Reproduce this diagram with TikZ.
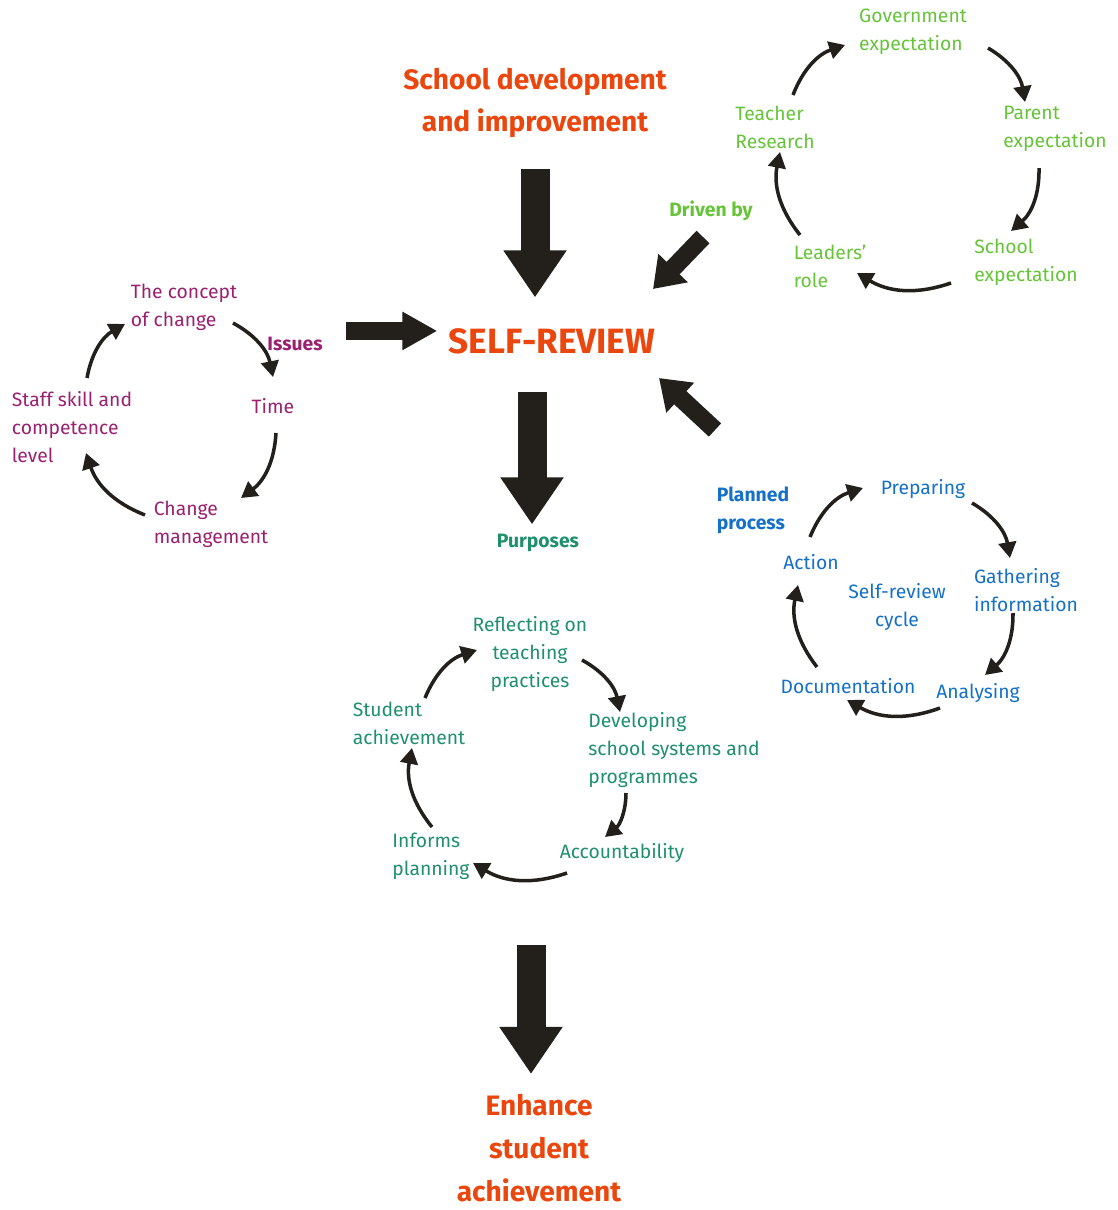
\documentclass[tikz,border=0pt]{standalone}
\usepackage{fontspec}
\setmainfont{Fira Sans}
\usetikzlibrary{arrows.meta}
\definecolor{headred}{RGB}{234,70,14}
\definecolor{drivegreen}{RGB}{102,196,56}
\definecolor{issuepurple}{RGB}{155,32,112}
\definecolor{purposeteal}{RGB}{30,144,106}
\definecolor{planblue}{RGB}{20,112,200}
\definecolor{arrowblack}{RGB}{35,32,28}
\tikzset{
	lbl/.style={align=left, font=\fontsize{11}{16}\selectfont},
	tagtxt/.style={align=left, font=\fontsize{11}{16}\selectfont\bfseries},
	heading/.style={align=center, text=headred, font=\fontsize{16}{24.4}\selectfont\bfseries},
	cyc/.style={draw=arrowblack, line width=2pt, -{Triangle[length=9pt,width=10pt]}, bend left=25},
	bigarrow/.style={draw=arrowblack, line width=0.58cm, -{Triangle[length=0.94cm,width=1.2cm]}},
	midarrow/.style={draw=arrowblack, line width=0.36cm, -{Triangle[length=0.58cm,width=0.78cm]}}
}
\begin{document}
\begin{tikzpicture}[x=0.02cm,y=-0.02cm]
		\useasboundingbox (0,0) rectangle (1117,1210);
		% centre
		\node [heading] (school) at (535,103) {School development\\and improvement};
		\node [heading, font=\fontsize{20}{24}\selectfont\bfseries] (selfrev) at (552,341) {SELF-REVIEW};
		\node [heading] (enhance) at (539,1148) {Enhance\\student\\achievement};
		\draw [bigarrow, shorten <=14pt, shorten >=14pt] (school.south) -- (school.south |- selfrev.north);
		% drivers
		\node [lbl, text=drivegreen] (g1) at (913,32) {Government\\expectation};
		\node [lbl, text=drivegreen] (g2) at (1055,129) {Parent\\expectation};
		\node [lbl, text=drivegreen] (g3) at (1026,262) {School\\expectation};
		\node [lbl, text=drivegreen] (g4) at (830,266) {Leaders’\\role};
		\node [lbl, text=drivegreen] (g5) at (775,127) {Teacher\\Research};
		\node [tagtxt, text=drivegreen] (drivenby) at (711,211) {Driven by};
		\draw ([shift={(18,-32)}]g5.center) edge [cyc] ([shift={(-68,13)}]g1.center);
		\draw ([shift={(75,16)}]g1.center) edge [cyc] ([shift={(-30,-27)}]g2.center);
		\draw ([shift={(-16,39)}]g2.center) edge [cyc] ([shift={(-15,-31)}]g3.center);
		\draw ([shift={(-75,21)}]g3.center) edge [cyc] ([shift={(27,7)}]g4.center);
		\draw ([shift={(-30,-31)}]g4.center) edge [cyc] ([shift={(5,25)}]g5.center);
		\coordinate (drvtail) at (703,237);
		\coordinate (drvtip) at (653,289);
		\draw [midarrow] (drvtail) -- (drvtip);
		% issues
		\node [lbl, text=issuepurple] (p1) at (184,307) {The concept\\of change};
		\node [lbl, text=issuepurple] (p2) at (273,406) {Time};
		\node [lbl, text=issuepurple] (p3) at (211,524) {Change\\management};
		\node [lbl, text=issuepurple] (p4) at (72,427) {Staff skill and\\competence\\level};
		\node [tagtxt, text=issuepurple] (issues) at (295,344) {Issues};
		\draw ([shift={(49,16)}]p1.center) edge [cyc] ([shift={(0,-29)}]p2.center);
		\draw ([shift={(3,27)}]p2.center) edge [cyc] ([shift={(30,-26)}]p3.center);
		\draw ([shift={(-66,-9)}]p3.center) edge [cyc] ([shift={(14,26)}]p4.center);
		\draw ([shift={(15,-49)}]p4.center) edge [cyc] ([shift={(-59,17)}]p1.center);
		\draw [midarrow, -{Triangle[length=0.7cm,width=0.72cm]}, shorten <=10pt, shorten >=3pt] (issues.north east) -- (issues.north east -| selfrev.west);
		% purposes
		\node [tagtxt, text=purposeteal] (purposes) at (538,543) {Purposes};
		\draw [bigarrow, shorten <=18pt, shorten >=2pt] (selfrev.south -| 532,0) -- (532,0 |- purposes.north);
		\node [lbl, text=purposeteal, align=center] (t1) at (530,654) {Reflecting on\\teaching\\practices};
		\node [lbl, text=purposeteal] (t2) at (674,750) {Developing\\school systems and\\programmes};
		\node [lbl, text=purposeteal] (t3) at (622,853) {Accountability};
		\node [lbl, text=purposeteal] (t4) at (431,856) {Informs\\planning};
		\node [lbl, text=purposeteal] (t5) at (409,723) {Student\\achievement};
		\draw ([shift={(16,-25)}]t5.center) edge [cyc] ([shift={(-53,-4)}]t1.center);
		\draw ([shift={(52,6)}]t1.center) edge [cyc] ([shift={(-54,-38)}]t2.center);
		\draw ([shift={(-48,43)}]t2.center) edge [cyc] ([shift={(-17,-16)}]t3.center);
		\draw ([shift={(-55,20)}]t3.center) edge [cyc] ([shift={(42,7)}]t4.center);
		\draw ([shift={(1,-29)}]t4.center) edge [cyc] ([shift={(3,25)}]t5.center);
		\coordinate (outtail) at (531,945);
		\draw [bigarrow, shorten >=8pt] (outtail) -- (outtail |- enhance.north);
		% planned process
		\node [lbl, text=planblue] (b1) at (923,489) {Preparing};
		\node [lbl, text=planblue] (b2) at (1026,590) {Gathering\\information};
		\node [lbl, text=planblue] (b3) at (978,693) {Analysing};
		\node [lbl, text=planblue] (b4) at (848,686) {Documentation};
		\node [lbl, text=planblue] (b5) at (811,562) {Action};
		\node [lbl, text=planblue, align=center] (cycle) at (897,607) {Self-review\\cycle};
		\node [tagtxt, text=planblue] (planned) at (753,510) {Planned\\process};
		\draw ([shift={(-1,-25)}]b5.center) edge [cyc] ([shift={(-60,-1)}]b1.center);
		\draw ([shift={(49,14)}]b1.center) edge [cyc] ([shift={(-16,-32)}]b2.center);
		\draw ([shift={(-13,23)}]b2.center) edge [cyc] ([shift={(7,-18)}]b3.center);
		\draw ([shift={(-38,15)}]b3.center) edge [cyc] ([shift={(-1,14)}]b4.center);
		\draw ([shift={(-31,-19)}]b4.center) edge [cyc] ([shift={(-13,23)}]b5.center);
		\coordinate (plantail) at (715,430);
		\coordinate (plantip) at (659,378);
		\draw [midarrow] (plantail) -- (plantip);
\end{tikzpicture}
\end{document}
